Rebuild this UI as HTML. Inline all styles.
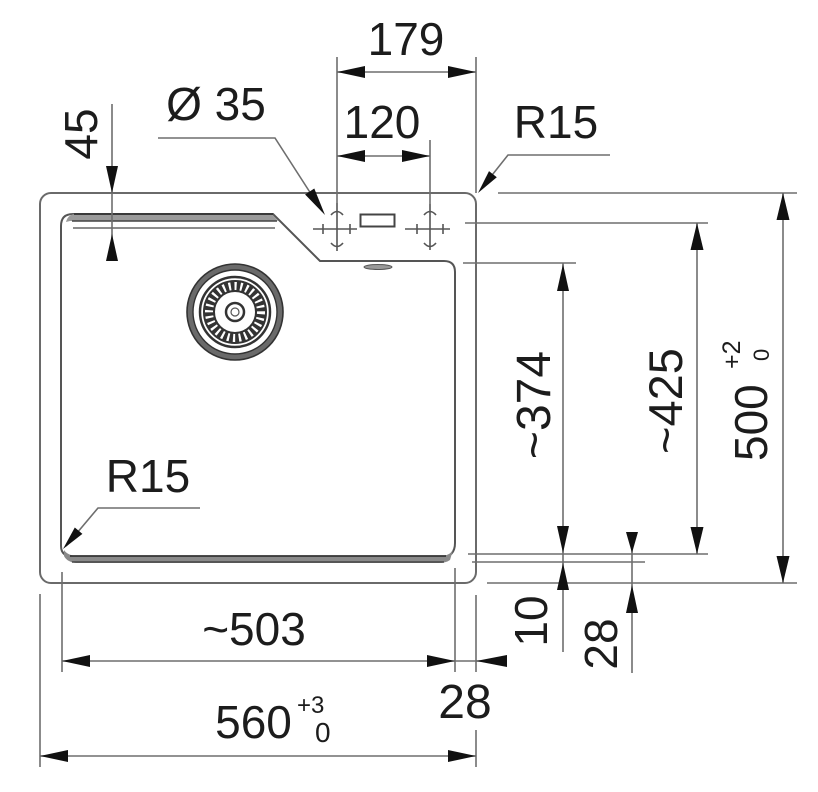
<!DOCTYPE html>
<html>
<head>
<meta charset="utf-8">
<style>
  html,body{margin:0;padding:0;background:#fff;}
  svg{display:block;}
  text{font-family:"Liberation Sans",Arial,sans-serif;fill:#1c1c1c;}
</style>
</head>
<body>
<svg width="818" height="792" viewBox="0 0 818 792" xmlns="http://www.w3.org/2000/svg">
  <rect width="818" height="792" fill="#fff"/>

  <!-- Sink outer outline -->
  <rect x="40" y="193" width="436" height="390" rx="11" ry="11" fill="none" stroke="#6a6a6a" stroke-width="2"/>

  <!-- Bowl outline -->
  <path d="M61 546 L61 226 Q61 214 73 214 L273 214 L320 261 L444 261 Q455 261 455 272 L455 543 Q455 557 441 557 L75 557 Q61 557 61 546 Z" fill="none" stroke="#555" stroke-width="2"/>
  <!-- top lip band -->
  <path d="M66 222 Q68 214 76 214 L272 214 L278 221 L70 221 Z" fill="#9a9a9a" stroke="none"/>
  <line x1="74" y1="214" x2="273" y2="214" stroke="#3a3a3a" stroke-width="2"/>
  <line x1="72" y1="221" x2="277" y2="221" stroke="#444" stroke-width="1.6"/>
  <line x1="73" y1="228" x2="275" y2="228" stroke="#666" stroke-width="1.6"/>
  <!-- bottom lip band -->
  <path d="M64 550 Q68 556 78 556 L440 556 Q450 556 453 550 L450 560 Q446 563 438 563 L76 563 Q67 562 64 556 Z" fill="#8a8a8a" stroke="none"/>
  <line x1="70" y1="556" x2="446" y2="556" stroke="#333" stroke-width="1.8"/>
  <line x1="72" y1="562" x2="444" y2="562" stroke="#444" stroke-width="1.6"/>

  <!-- overflow -->
  <ellipse cx="378" cy="267" rx="14" ry="2.5" fill="#999" stroke="#555" stroke-width="1"/>
  <!-- rectangle (tap hole) -->
  <rect x="360.5" y="214.5" width="34" height="12" fill="none" stroke="#444" stroke-width="2"/>

  <!-- taps -->
  <g stroke="#555" stroke-width="1.6" fill="none">
    <line x1="313" y1="229" x2="357" y2="229"/>
    <line x1="337" y1="203" x2="337" y2="251"/>
    <line x1="323" y1="224" x2="323" y2="234"/>
    <line x1="350" y1="224" x2="350" y2="234"/>
    <path d="M331 215 Q337 208 343 215"/>
    <path d="M331 243 Q337 250 343 243"/>
    <line x1="405" y1="229" x2="450" y2="229"/>
    <line x1="430" y1="204" x2="430" y2="250"/>
    <line x1="417" y1="224" x2="417" y2="234"/>
    <line x1="443" y1="224" x2="443" y2="234"/>
    <path d="M424 215 Q430 208 436 215"/>
    <path d="M424 243 Q430 250 436 243"/>
  </g>

  <!-- drain -->
  <g fill="none">
    <circle cx="235" cy="312" r="45" stroke="#6a6a6a" stroke-width="6"/>
    <circle cx="235" cy="312" r="48" stroke="#333" stroke-width="1.6"/>
    <circle cx="235" cy="312" r="42" stroke="#333" stroke-width="1.4"/>
    <circle cx="235" cy="312" r="35" stroke="#333" stroke-width="2.5"/>
    <circle cx="235" cy="312" r="26" stroke="#333" stroke-width="12"/>
    <circle cx="235" cy="312" r="26" stroke="#fff" stroke-width="8" stroke-dasharray="2.2 3.6"/>
    <circle cx="235" cy="312" r="9" stroke="#333" stroke-width="2.5"/>
    <circle cx="235" cy="312" r="4" stroke="#555" stroke-width="1.2"/>
  </g>

  <!-- Dimension lines -->
  <g stroke="#6e6e6e" stroke-width="1.6" fill="none">
    <line x1="337" y1="57" x2="337" y2="203"/>
    <line x1="476" y1="57" x2="476" y2="193"/>
    <line x1="337" y1="72" x2="476" y2="72"/>
    <line x1="430" y1="140" x2="430" y2="204"/>
    <line x1="337" y1="156" x2="430" y2="156"/>
    <line x1="112" y1="104" x2="112" y2="260"/>
    <polyline points="158,138 275,138 322,211"/>
    <polyline points="610,155 508,155 481,189"/>
    <polyline points="200,508 98,508 66,546"/>
    <line x1="498" y1="193" x2="797" y2="193"/>
    <line x1="465" y1="223" x2="708" y2="223"/>
    <line x1="463" y1="263" x2="576" y2="263"/>
    <line x1="468" y1="554" x2="708" y2="554"/>
    <line x1="472" y1="562" x2="645" y2="562"/>
    <line x1="487" y1="583" x2="797" y2="583"/>
    <line x1="783" y1="193" x2="783" y2="583"/>
    <line x1="697" y1="223" x2="697" y2="554"/>
    <line x1="563" y1="263" x2="563" y2="652"/>
    <line x1="632" y1="532" x2="632" y2="673"/>
    <line x1="62" y1="572" x2="62" y2="672"/>
    <line x1="455" y1="568" x2="455" y2="672"/>
    <line x1="476" y1="595" x2="476" y2="672"/>
    <line x1="40" y1="594" x2="40" y2="767"/>
    <line x1="476" y1="730" x2="476" y2="767"/>
    <line x1="62" y1="661" x2="507" y2="661"/>
    <line x1="40" y1="756" x2="476" y2="756"/>
  </g>

  <!-- Arrowheads -->
  <g fill="#111">
    <polygon points="337,72 365,66 365,78"/>
    <polygon points="476,72 448,66 448,78"/>
    <polygon points="337,156 365,150 365,162"/>
    <polygon points="430,156 402,150 402,162"/>
    <polygon points="112,193 106,166 118,166"/>
    <polygon points="112,234 106,261 118,261"/>
    <polygon points="325,215 305.1,194.5 314.3,188.5"/>
    <polygon points="478,193 496.8,177.3 489,171.1"/>
    <polygon points="63,549 82.4,533.9 74.8,527.5"/>
    <polygon points="783,193 776.5,220 789.5,220"/>
    <polygon points="783,583 776.5,556 789.5,556"/>
    <polygon points="697,223 690.5,250 703.5,250"/>
    <polygon points="697,554 690.5,527 703.5,527"/>
    <polygon points="563,264 557,291 569,291"/>
    <polygon points="563,553 557,526 569,526"/>
    <polygon points="563,563 557,590 569,590"/>
    <polygon points="632,553 626,532 638,532"/>
    <polygon points="632,585 626,613 638,613"/>
    <polygon points="62,661 90,655 90,667"/>
    <polygon points="455,661 427,655 427,667"/>
    <polygon points="476,661 507,655 507,667"/>
    <polygon points="40,756 68,750 68,762"/>
    <polygon points="476,756 448,750 448,762"/>
  </g>

  <!-- Texts -->
  <text x="406" y="55" font-size="46" text-anchor="middle">179</text>
  <text x="382" y="138" font-size="46" text-anchor="middle">120</text>
  <text x="216" y="120" font-size="46" text-anchor="middle">Ø 35</text>
  <text x="556" y="138" font-size="46" text-anchor="middle">R15</text>
  <text transform="translate(97,134) rotate(-90)" font-size="46" text-anchor="middle">45</text>
  <text x="148" y="492" font-size="46" text-anchor="middle">R15</text>
  <text x="254" y="645" font-size="46" text-anchor="middle">~503</text>
  <text x="465" y="718" font-size="48" text-anchor="middle">28</text>
  <text x="253.5" y="738" font-size="46" text-anchor="middle">560</text>
  <text x="297" y="713" font-size="24">+3</text>
  <text x="315" y="742" font-size="28">0</text>

  <text transform="translate(550,405) rotate(-90)" font-size="48" text-anchor="middle">~374</text>
  <text transform="translate(682,401) rotate(-90)" font-size="47" text-anchor="middle">~425</text>
  <text transform="translate(767,461) rotate(-90)" font-size="46">500</text>
  <text transform="translate(740,369) rotate(-90)" font-size="25">+2</text>
  <text transform="translate(769,361) rotate(-90)" font-size="22">0</text>
  <text transform="translate(547,621) rotate(-90)" font-size="46" text-anchor="middle">10</text>
  <text transform="translate(617,644) rotate(-90)" font-size="46" text-anchor="middle">28</text>
</svg>
</body>
</html>
